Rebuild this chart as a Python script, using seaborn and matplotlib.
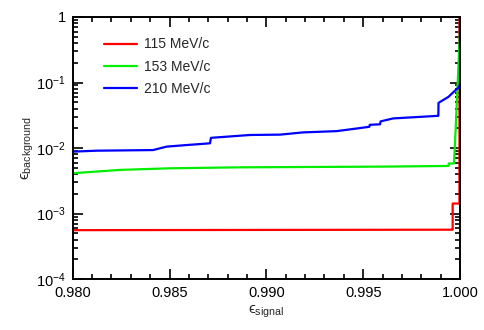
import numpy as np
import pandas as pd
import matplotlib
matplotlib.use("Agg")
import matplotlib.pyplot as plt
import matplotlib.ticker as mticker
import seaborn as sns

# efficiency curves (signal eff vs background eff)
sig_115 = [0.9800, 0.9996, 0.99962, 0.99962, 0.99997, 0.99997]
bkg_115 = [0.000557, 0.000566, 0.000566, 0.00142, 0.00142, 1.0]

sig_153 = [0.9800, 0.98244, 0.98502, 0.98864, 0.99602, 0.99940, 0.99942,
           0.99969, 0.99978, 0.99987, 1.0, 1.0]
bkg_153 = [0.00412, 0.00463, 0.0049, 0.00507, 0.0052, 0.00532, 0.0058,
           0.0058, 0.021, 0.085, 0.64, 1.0]

sig_210 = [0.9800, 0.98124, 0.98415, 0.98485, 0.98589, 0.98709, 0.98714,
           0.98915, 0.99071, 0.99189, 0.99363, 0.99475, 0.99532, 0.99534,
           0.99587, 0.99590, 0.99655, 0.99888, 0.99889, 0.99940, 0.99991,
           1.0, 1.0]
bkg_210 = [0.0088, 0.0091, 0.0093, 0.0105, 0.0111, 0.0118, 0.0143,
           0.0158, 0.0160, 0.0173, 0.0181, 0.0200, 0.0211, 0.0226,
           0.0230, 0.0255, 0.0283, 0.0310, 0.0489, 0.0603, 0.0837,
           0.092, 1.0]

labels = ["115 MeV/c", "153 MeV/c", "210 MeV/c"]
colors = ["#ff0000", "#00ee00", "#0000ff"]

frames = []
for lab, xs, ys in zip(labels, [sig_115, sig_153, sig_210], [bkg_115, bkg_153, bkg_210]):
    frames.append(pd.DataFrame({"sig": xs, "bkg": ys, "beam": lab, "order": range(len(xs))}))
df = pd.concat(frames, ignore_index=True)

sns.set_style("ticks")
plt.rcParams["font.family"] = ["Liberation Sans", "DejaVu Sans"]
plt.rcParams["mathtext.fontset"] = "custom"
plt.rcParams["mathtext.rm"] = "Liberation Sans"
plt.rcParams["mathtext.it"] = "Liberation Sans:italic"

fig = plt.figure(figsize=(4.85, 3.3), dpi=100)
ax = fig.add_axes([0.1499, 0.1545, 0.7986, 0.7940])

for lab, col in zip(labels, colors):
    sub = df[df["beam"] == lab]
    sns.lineplot(data=sub, x="sig", y="bkg", sort=False, estimator=None,
                 color=col, lw=1.6, label=lab, ax=ax)

ax.set_yscale("log")
ax.set_xlim(0.980, 1.000)
ax.set_ylim(1e-4, 1)

ax.xaxis.set_major_locator(mticker.MultipleLocator(0.005))
ax.xaxis.set_minor_locator(mticker.MultipleLocator(0.001))
ax.xaxis.set_major_formatter(mticker.FormatStrFormatter("%.3f"))


def yfmt(v, pos):
    e = int(round(np.log10(v)))
    if e == 0:
        return "1"
    return r"$\mathregular{10^{%d}}$" % e


ax.yaxis.set_major_formatter(mticker.FuncFormatter(yfmt))
ax.yaxis.set_minor_formatter(mticker.NullFormatter())

ax.tick_params(which="both", direction="in", top=True, right=True,
               labelsize=10.5, width=1.2, colors="black")
ax.tick_params(which="major", length=7, pad=5)
ax.tick_params(which="minor", length=3.5)
for s in ax.spines.values():
    s.set_linewidth(1.4)
    s.set_color("black")

ax.set_xlabel("\u03f5$_{\\mathregular{signal}}$", fontsize=11, labelpad=3)
ax.set_ylabel("\u03f5$_{\\mathregular{background}}$", fontsize=11, labelpad=0)

ax.legend(loc="upper left", bbox_to_anchor=(0.081, 0.922), frameon=False,
          borderaxespad=0, borderpad=0, handlelength=2.4, handletextpad=0.5,
          labelspacing=0.6, fontsize=10)

fig.savefig("out.png", dpi=100)
